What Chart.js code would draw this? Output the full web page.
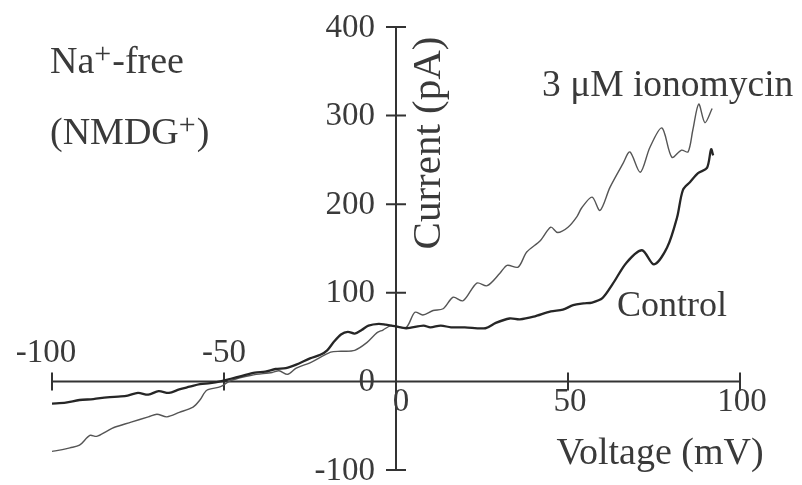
<!DOCTYPE html>
<html>
<head>
<meta charset="utf-8">
<script src="https://cdn.jsdelivr.net/npm/chart.js@4/dist/chart.umd.min.js"></script>
<style>
  html, body { margin: 0; padding: 0; background: #ffffff; }
  #wrap { width: 802px; height: 485px; }
</style>
</head>
<body>
<div id="wrap"><canvas id="iv" width="802" height="485"></canvas></div>
<script>
// Current-voltage relation, Na+-free (NMDG+) bath
const controlVoltage = [-100, -96, -92, -88, -84, -80, -78, -75, -72, -69, -66, -63, -60, -57, -54, -51,
  -48, -45, -41, -38, -35, -32, -29, -25, -22, -20, -18, -16, -14, -12, -10, -8, -5, -3,
  0, 3, 8, 10, 13, 16, 20, 26, 29, 33, 36, 40, 45, 48.5, 51.5, 54.5, 57, 60, 63, 67, 71.5,
  75, 78.8, 81.7, 83.4, 85.5, 87.8, 90.4, 91.6, 92.2];
const controlCurrent = [-25, -24, -21, -20, -18, -17, -16, -13, -15, -11, -13, -9, -6, -3, -2, 0,
  3, 6, 10, 11, 14, 15, 19, 26, 30, 35, 45, 53, 56, 54, 58, 63, 65, 64,
  62, 60, 63, 61, 63, 61, 61, 60, 66, 71, 70, 73, 79, 81, 86, 88, 89, 94, 110, 134, 148,
  132, 151, 185, 216, 225, 235, 241, 262, 255];

const ionomycinVoltage = [-100, -97, -94.8, -92, -89, -87, -84, -82, -77, -72, -69.5, -66.6, -63, -59, -57, -55,
  -51, -48, -42, -36, -34, -31.5, -29, -25, -19, -16, -12, -8.4, -5.5, -3.8, -1.5,
  0, 3, 5.5, 7.8, 10.8, 13.7, 16.6, 19.5, 23.5, 26.5, 30.2, 32.3, 35.5, 38, 42, 45, 47, 50,
  52.6, 54, 57, 59.3, 62.2, 66, 68, 71, 73.8, 77.3, 80.2, 83, 84.9, 86.3, 88, 89.8, 91.9];
const ionomycinCurrent = [-79, -77, -75, -72, -61, -62, -56, -52, -46, -40, -37, -40, -35, -29, -21, -10,
  -6, 1, 7, 10, 12, 8, 15, 21, 33, 34, 35, 44, 55, 58, 63,
  62, 61, 78, 75, 80, 82, 95, 91, 111, 108, 122, 131, 129, 146, 159, 174, 168, 174,
  186, 196, 208, 193, 219, 246, 259, 236, 264, 286, 253, 261, 259, 284, 313, 292, 308];

const xTicks = [-100, -50, 0, 50, 100];
const yTicks = [-100, 0, 100, 200, 300, 400];

const toPoints = (xs, ys) => xs.map((x, i) => ({ x: x, y: ys[i] }));

const SERIF = '"Liberation Serif", "Times New Roman", serif';
const INK = '#3a3a3a';

// Crossed axes through the origin, tick labels and in-plot annotations
const crossedAxes = {
  id: 'crossedAxes',
  beforeDatasetsDraw(chart) {
    const { ctx, scales: { x, y } } = chart;
    const x0 = x.getPixelForValue(0);
    const y0 = y.getPixelForValue(0);
    ctx.save();
    ctx.strokeStyle = '#333';
    ctx.lineWidth = 2;
    ctx.beginPath();
    ctx.moveTo(x.getPixelForValue(-100), y0);
    ctx.lineTo(x.getPixelForValue(100), y0);
    ctx.moveTo(x0, y.getPixelForValue(400));
    ctx.lineTo(x0, y.getPixelForValue(-100));
    xTicks.forEach(v => {
      const px = x.getPixelForValue(v);
      ctx.moveTo(px, y0 - 9);
      ctx.lineTo(px, y0 + 9);
    });
    yTicks.forEach(v => {
      const py = y.getPixelForValue(v);
      ctx.moveTo(x0 - 10, py);
      ctx.lineTo(x0 + 10, py);
    });
    ctx.stroke();
    ctx.restore();
  },
  afterDraw(chart) {
    const { ctx, scales: { x, y } } = chart;
    const x0 = x.getPixelForValue(0);
    const y0 = y.getPixelForValue(0);
    ctx.save();
    ctx.fillStyle = INK;
    ctx.textBaseline = 'middle';

    // tick labels
    ctx.font = '33px ' + SERIF;
    ctx.textAlign = 'center';
    xTicks.forEach(v => {
      const px = x.getPixelForValue(v);
      if (v < 0) ctx.fillText(String(v), px - (v <= -100 ? 6 : 0), y0 - 28);
      else ctx.fillText(String(v), px + (v === 0 ? 5 : 2), y0 + 21);
    });
    ctx.textAlign = 'right';
    yTicks.forEach(v => {
      ctx.fillText(String(v), x0 - 21, y.getPixelForValue(v) + 1);
    });

    // axis titles
    ctx.font = '38px ' + SERIF;
    ctx.textAlign = 'center';
    ctx.fillText('Voltage (mV)', 660, 454);

    ctx.save();
    ctx.translate(429, 143);
    ctx.rotate(-Math.PI / 2);
    ctx.font = '41px ' + SERIF;
    ctx.fillText('Current (pA)', 0, 0);
    ctx.restore();

    // series labels
    ctx.textAlign = 'left';
    ctx.font = '37.5px ' + SERIF;
    ctx.fillText('3 \u03BCM ionomycin', 542, 86);
    ctx.font = '36px ' + SERIF;
    ctx.fillText('Control', 617, 307);

    // condition label with superscript charges
    const sup = (parts, left, mid) => {
      let cx = left;
      parts.forEach(p => {
        ctx.font = (p.s ? '30px ' : '38px ') + SERIF;
        ctx.fillText(p.t, cx, mid + (p.s ? -8 : 0));
        cx += ctx.measureText(p.t).width + (p.s ? 1 : 0);
      });
    };
    sup([{ t: 'Na' }, { t: '+', s: true }, { t: '-free' }], 50, 63);
    sup([{ t: '(NMDG' }, { t: '+', s: true }, { t: ')' }], 50, 134);
    ctx.restore();
  }
};

new Chart(document.getElementById('iv'), {
  type: 'scatter',
  data: {
    datasets: [
      {
        label: 'Control',
        data: toPoints(controlVoltage, controlCurrent),
        showLine: true,
        borderColor: '#262626',
        borderWidth: 2.3,
        pointRadius: 0,
        tension: 0.3
      },
      {
        label: '3 \u03BCM ionomycin',
        data: toPoints(ionomycinVoltage, ionomycinCurrent),
        showLine: true,
        borderColor: '#555555',
        borderWidth: 1.4,
        pointRadius: 0,
        tension: 0.3
      }
    ]
  },
  options: {
    responsive: false,
    devicePixelRatio: 1,
    animation: false,
    layout: { padding: { left: 52, right: 62, top: 27, bottom: 15 } },
    plugins: { legend: { display: false }, tooltip: { enabled: false } },
    scales: {
      x: { type: 'linear', min: -100, max: 100, display: false },
      y: { type: 'linear', min: -100, max: 400, display: false }
    }
  },
  plugins: [crossedAxes]
});
</script>
</body>
</html>
